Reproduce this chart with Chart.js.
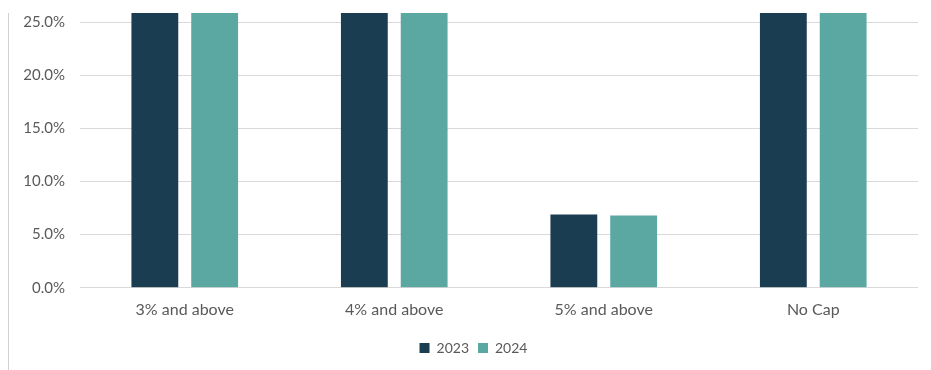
<!DOCTYPE html>
<html>
<head>
<meta charset="utf-8">
<script src="https://cdn.jsdelivr.net/npm/chart.js@4"></script>
<style>
  html, body { margin: 0; padding: 0; background: #fff; }
  #wrap { position: relative; width: 931px; height: 370px; }
  #edge { position: absolute; left: 8px; top: 13px; bottom: 0; width: 1px; background: #d0d0d0; }
</style>
</head>
<body>
<div id="wrap">
  <div id="edge"></div>
  <canvas id="capChart" width="931" height="370"></canvas>
</div>
<script>
// categories and series (values above ~26% are cut off in the picture)
var labels = ['3% and above', '4% and above', '5% and above', 'No Cap'];
var series2023 = [38.0, 42.0, 6.9, 45.0];
var series2024 = [37.0, 43.0, 6.8, 44.0];
var yTicks = [0, 5, 10, 15, 20, 25];

// nudge the legend to the right, it is not centred on the canvas in the original
var legendShift = {
    id: 'legendShift',
    afterLayout: function(chart) {
        chart.legend.left += 29;
    }
};

var ctx = document.getElementById('capChart').getContext('2d');
var config = {
    type: 'bar',
    data: {
        labels: labels,
        datasets: [{
            label: '2023',
            data: series2023,
            backgroundColor: '#1b3d52'
        }, {
            label: '2024',
            data: series2024,
            backgroundColor: '#5ba8a2'
        }]
    },
    options: {
        responsive: false,
        animation: false,
        categoryPercentage: 0.571,
        barPercentage: 0.783,
        layout: { padding: { top: 13, right: 13, left: 0, bottom: 5 } },
        plugins: {
            tooltip: { enabled: false },
            legend: {
                position: 'bottom',
                labels: {
                    boxWidth: 10,
                    boxHeight: 10,
                    padding: 9,
                    color: '#595959',
                    font: { family: 'Lato', size: 14 }
                }
            }
        },
        scales: {
            x: {
                grid: { display: false },
                border: { display: false },
                afterFit: function(scale) { scale.height += 9; },
                ticks: {
                    padding: 4,
                    color: '#595959',
                    font: { family: 'Lato', size: 16 }
                }
            },
            y: {
                min: 0,
                max: 25.85,
                border: { display: false },
                grid: { color: '#d9d9d9', drawTicks: false },
                afterBuildTicks: function(scale) {
                    scale.ticks = yTicks.map(function(v) { return { value: v }; });
                },
                afterFit: function(scale) {
                    scale.width = 80;
                    scale.paddingTop = 0;
                    scale.paddingBottom = 0;
                },
                ticks: {
                    padding: 15,
                    color: '#595959',
                    font: { family: 'Lato', size: 15 },
                    callback: function(v) { return v.toFixed(1) + '%'; }
                }
            }
        }
    },
    plugins: [legendShift]
};

var chart = new Chart(ctx, config);
</script>
</body>
</html>
